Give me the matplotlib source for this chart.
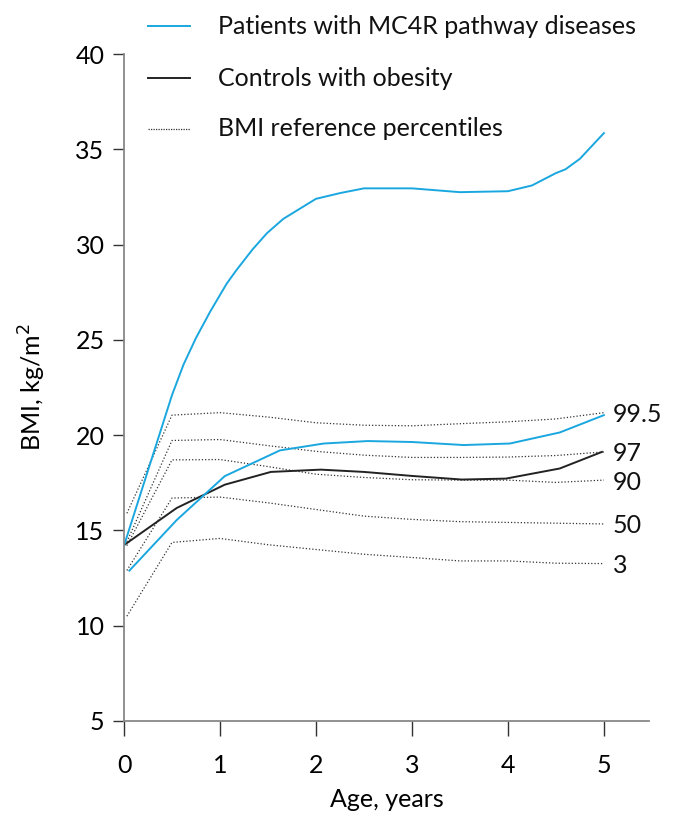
import matplotlib
matplotlib.use("Agg")
import matplotlib.pyplot as plt
from matplotlib.lines import Line2D

# ---------------- data ----------------
patients_upper_x = [0, 0.5, 0.62, 0.75, 0.9, 1.07, 1.17, 1.34, 1.49, 1.66, 2.0, 2.25, 2.5, 3.0, 3.5, 4.0, 4.25, 4.5, 4.6, 4.75, 5.0]
patients_upper_y = [14.2, 22.1, 23.7, 25.1, 26.5, 27.95, 28.65, 29.75, 30.6, 31.35, 32.4, 32.7, 32.95, 32.95, 32.75, 32.8, 33.1, 33.75, 33.95, 34.5, 35.85]

patients_lower_x = [0.056, 0.55, 1.05, 1.625, 2.08, 2.54, 3.0, 3.54, 4.02, 4.54, 5.0]
patients_lower_y = [12.89, 15.55, 17.85, 19.2, 19.56, 19.69, 19.64, 19.48, 19.56, 20.14, 21.05]

controls_x = [0, 0.55, 1.05, 1.53, 2.05, 2.5, 3.0, 3.52, 3.98, 4.54, 4.98]
controls_y = [14.23, 16.18, 17.4, 18.07, 18.19, 18.07, 17.86, 17.67, 17.72, 18.25, 19.12]

pct_x = [0.03, 0.5, 1.0, 1.5, 2.0, 2.5, 3.0, 3.5, 4.0, 4.5, 5.0]
pct_labels = ["99.5", "97", "90", "50", "3"]
pct_995 = [15.9, 21.05, 21.18, 20.95, 20.65, 20.52, 20.49, 20.6, 20.7, 20.85, 21.18]
pct_97 = [14.4, 19.72, 19.77, 19.45, 19.15, 18.95, 18.83, 18.83, 18.85, 18.93, 19.12]
pct_90 = [14.2, 18.7, 18.72, 18.35, 17.95, 17.78, 17.66, 17.64, 17.64, 17.52, 17.64]
pct_50 = [12.9, 16.7, 16.75, 16.45, 16.1, 15.75, 15.58, 15.46, 15.42, 15.38, 15.34]
pct_3 = [10.5, 14.37, 14.58, 14.25, 14.0, 13.75, 13.58, 13.4, 13.4, 13.28, 13.26]
pct_series = [pct_995, pct_97, pct_90, pct_50, pct_3]

x_ticks = [0, 1, 2, 3, 4, 5]
y_ticks = [5, 10, 15, 20, 25, 30, 35, 40]

legend_labels = ["Patients with MC4R pathway diseases", "Controls with obesity", "BMI reference percentiles"]

# ---------------- style ----------------
BLUE = "#1aa7df"
BLACK = "#222222"
DOT = "#333333"
plt.rcParams['font.family'] = ['Lato', 'DejaVu Sans']
FS = 18

fig = plt.figure(figsize=(6.75, 8.16), dpi=100)
ax = fig.add_axes([124/675, 95/816, 525/675, 667/816])

for s in pct_series:
    ax.plot(pct_x, s, color=DOT, lw=0.9, linestyle=(0, (1, 1.6)))
ax.plot(controls_x, controls_y, color=BLACK, lw=1.4)
ax.plot(patients_upper_x, patients_upper_y, color=BLUE, lw=1.4)
ax.plot(patients_lower_x, patients_lower_y, color=BLUE, lw=1.4)

for lab, s in zip(pct_labels, pct_series):
    ax.text(5.09, s[-1] - 0.1, lab, fontsize=FS, va='center', ha='left', color='#111111')

ax.set_xlim(0, 5.47)
ax.set_ylim(5, 40)
ax.set_xticks(x_ticks)
ax.set_yticks(y_ticks)
ax.tick_params(axis='x', direction='out', length=11, width=1.0, color='#333333', labelsize=FS, pad=13)
ax.tick_params(axis='y', direction='out', length=8, width=1.0, color='#333333', labelsize=FS, pad=6)
for side in ['top', 'right']:
    ax.spines[side].set_visible(False)
for side in ['left', 'bottom']:
    ax.spines[side].set_color('#888888')
    ax.spines[side].set_linewidth(1.3)

ax.set_xlabel("Age, years", fontsize=FS, labelpad=8)
ax.set_ylabel("BMI, kg/m$^2$", fontsize=FS, labelpad=20)

# legend (manual, figure pixel coordinates)
leg_styles = [dict(color=BLUE, lw=1.4), dict(color=BLACK, lw=1.4), dict(color=DOT, lw=0.9, linestyle=(0, (1, 1.0)))]
leg_rows_px = [26, 78, 129]
for lab, st, ypx in zip(legend_labels, leg_styles, leg_rows_px):
    yf = 1 - ypx / 816
    fig.add_artist(Line2D([148/675, 190/675], [yf, yf], transform=fig.transFigure, **st))
    fig.text(218/675, yf, lab, fontsize=FS, va='center', ha='left', color='#111111')

fig.savefig("out.png", dpi=100)
